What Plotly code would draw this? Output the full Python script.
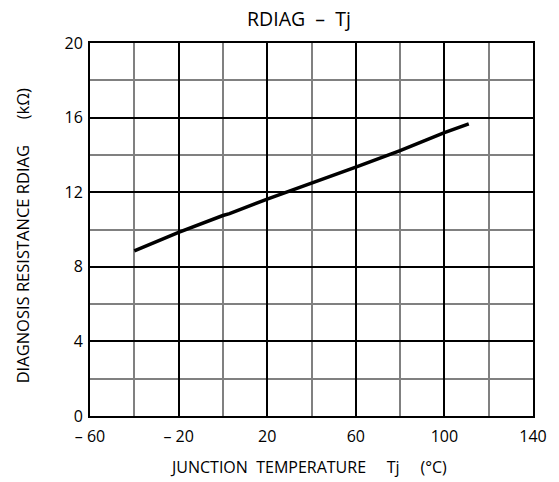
import plotly.graph_objects as go

# Data
tj = [-40, -20, 0, 3, 20, 40, 60, 80, 100, 111]
rdiag = [8.86, 9.85, 10.75, 10.85, 11.63, 12.48, 13.34, 14.23, 15.19, 15.66]

x_tickvals = [-60, -20, 20, 60, 100, 140]
x_ticktext = ["\u2013 60", "\u2013 20", "20", "60", "100", "140"]
y_tickvals = [0, 4, 8, 12, 16, 20]
y_ticktext = ["0", "4", "8", "12", "16", "20"]

FONT = "Open Sans"

fig = go.Figure()
fig.add_trace(go.Scatter(x=tj, y=rdiag, mode="lines",
                         line=dict(color="black", width=3.5),
                         showlegend=False, hoverinfo="skip"))

fig.update_layout(
    width=559, height=482,
    margin=dict(l=90, r=17, t=43, b=66),
    paper_bgcolor="white", plot_bgcolor="white",
    font=dict(family=FONT, size=16, color="black"),
    xaxis=dict(range=[-60, 140], tickmode="array", tickvals=x_tickvals, ticktext=x_ticktext,
               showgrid=True, gridcolor="black", gridwidth=1.5,
               minor=dict(dtick=20, tick0=-60, showgrid=True, gridcolor="#808080", gridwidth=1.6),
               showline=True, linecolor="black", linewidth=2, mirror=True,
               ticks="", zeroline=False, tickfont=dict(size=16), ticklabelstandoff=5),
    yaxis=dict(range=[0, 20], tickmode="array", tickvals=y_tickvals, ticktext=y_ticktext,
               showgrid=True, gridcolor="black", gridwidth=1.5,
               minor=dict(dtick=2, tick0=0, showgrid=True, gridcolor="#808080", gridwidth=1.6),
               showline=True, linecolor="black", linewidth=2, mirror=True,
               ticks="", zeroline=False, tickfont=dict(size=16), ticklabelstandoff=2),
    annotations=[
        dict(text="RDIAG  \u2013  Tj", x=303, y=19, showarrow=False, font=dict(size=19.5)),
        dict(text="JUNCTION  TEMPERATURE     Tj     (\u00b0C)", x=313, y=467,
             showarrow=False, font=dict(size=16)),
        dict(text="DIAGNOSIS RESISTANCE RDIAG      (k\u03a9)", x=21, y=236,
             textangle=-90, showarrow=False, font=dict(size=16.5, weight=500)),
    ],
)

# Position annotations in pixel coordinates by converting to paper coords
W, H = 559, 482
l, r, t, b = 90, 17, 43, 66
pw, ph = W - l - r, H - t - b
new_ann = []
for a in fig.layout.annotations:
    px, py = a.x, a.y
    a.update(xref="paper", yref="paper", x=(px - l) / pw, y=1 - (py - t) / ph,
             xanchor="center", yanchor="middle")
    new_ann.append(a)
fig.layout.annotations = new_ann

fig.write_html("out.html")
